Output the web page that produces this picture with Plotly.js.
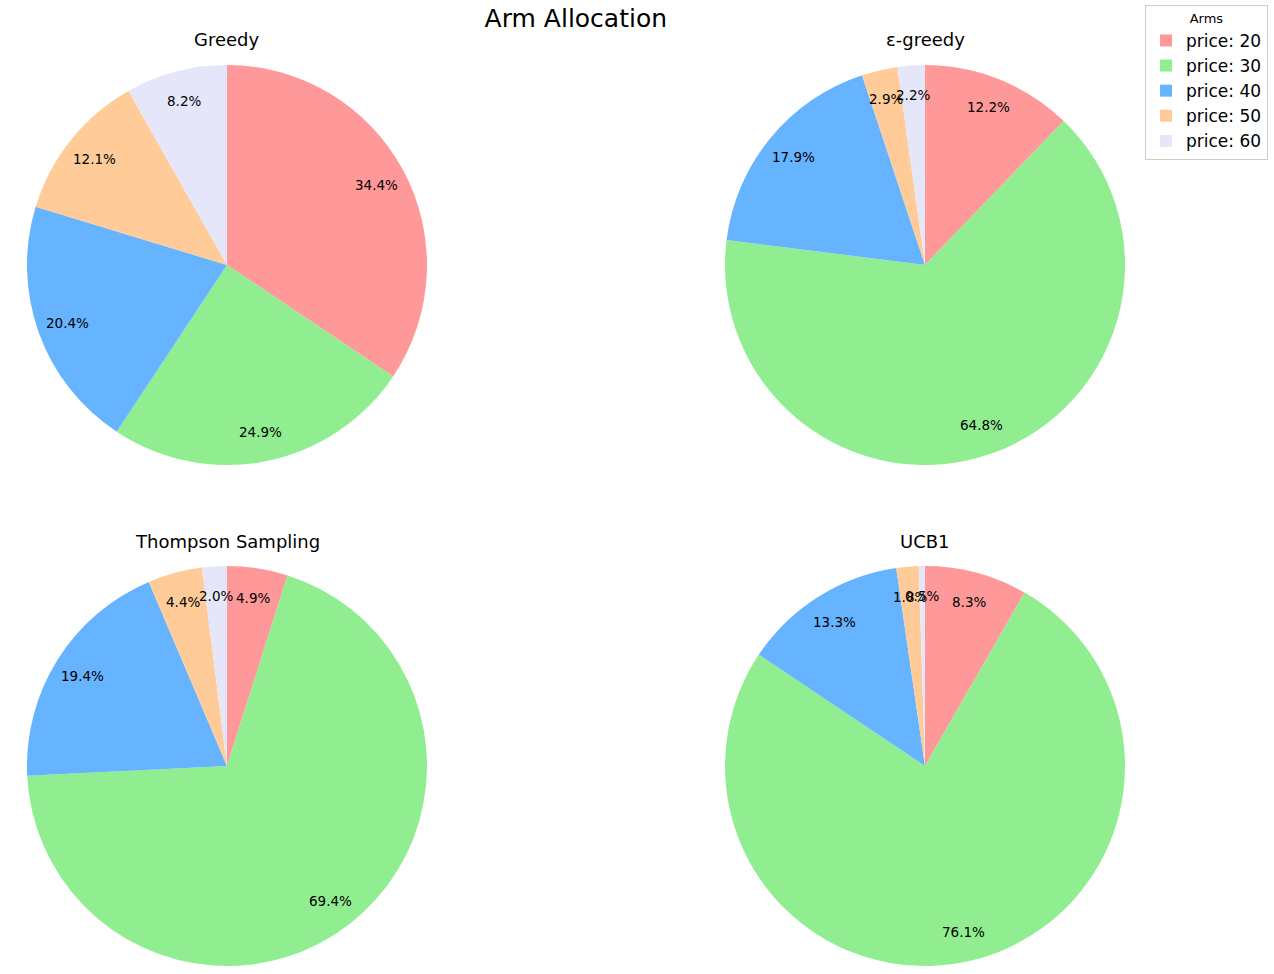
<!DOCTYPE html>
<html><head><meta charset="utf-8">
<script src="https://cdn.plot.ly/plotly-3.0.1.min.js"></script>
<style>html,body{margin:0;padding:0;background:#fff}</style>
</head><body>
<div id="chart" style="width:1274px;height:974px"></div>
<script>
const labels = ["price: 20", "price: 30", "price: 40", "price: 50", "price: 60"];
const colors = ["#ff9999", "#90ee90", "#66b3ff", "#ffcc99", "#e6e6fa"];
const titles = ["Greedy", "ε-greedy", "Thompson Sampling", "UCB1"];
const greedy = [34.4, 24.9, 20.4, 12.1, 8.2];
const epsGreedy = [12.2, 64.8, 17.9, 2.9, 2.2];
const thompson = [4.9, 69.4, 19.4, 4.4, 2.0];
const ucb1 = [8.3, 76.1, 13.3, 1.8, 0.5];
const series = [greedy, epsGreedy, thompson, ucb1];

const W = 1274, H = 974;
const centers = [[227, 265], [925, 265], [227, 766], [925, 766]];
const R = 200;
const traces = [], annotations = [];
series.forEach((vals, i) => {
  const [cx, cy] = centers[i];
  traces.push({
    type: 'pie', values: vals, labels: labels, sort: false,
    direction: 'clockwise', rotation: 0,
    marker: {colors: colors, line: {width: 0}},
    textinfo: 'none', hoverinfo: 'label+percent',
    domain: {x: [(cx - R) / W, (cx + R) / W], y: [1 - (cy + R) / H, 1 - (cy - R) / H]},
    showlegend: i === 0
  });
  const total = vals.reduce((a, b) => a + b, 0);
  let cum = 0;
  vals.forEach(v => {
    const th = 2 * Math.PI * (cum + v / 2) / total;
    cum += v;
    const px = cx + 0.85 * R * Math.sin(th);
    const py = cy - 0.85 * R * Math.cos(th);
    annotations.push({
      xref: 'paper', yref: 'paper', x: px / W, y: 1 - py / H,
      xanchor: 'center', yanchor: 'middle', showarrow: false,
      text: v.toFixed(1) + '%',
      font: {family: 'DejaVu Sans', size: 13.5, color: '#000'}
    });
  });
  annotations.push({
    xref: 'paper', yref: 'paper', x: cx / W, y: 1 - (cy - R - 25) / H,
    xanchor: 'center', yanchor: 'middle', showarrow: false,
    text: titles[i], font: {family: 'DejaVu Sans', size: 18, color: '#000'}
  });
});

const layout = {
  width: W, height: H,
  margin: {l: 0, r: 0, t: 0, b: 0},
  paper_bgcolor: '#fff',
  font: {family: 'DejaVu Sans', color: '#000'},
  title: {text: 'Arm Allocation', x: 0.452, xanchor: 'center', y: 1 - 18 / H, yanchor: 'middle',
          font: {family: 'DejaVu Sans', size: 25, color: '#000'}},
  annotations: annotations,
  legend: {
    x: 1268 / W, xanchor: 'right', y: 1 - 5 / H, yanchor: 'top',
    bordercolor: '#cccccc', borderwidth: 1, bgcolor: '#fff',
    title: {text: 'Arms', font: {family: 'DejaVu Sans', size: 13}, side: 'top center'},
    font: {family: 'DejaVu Sans', size: 17}, traceorder: 'normal'
  }
};
Plotly.newPlot('chart', traces, layout, {displayModeBar: false});
</script>
</body></html>
